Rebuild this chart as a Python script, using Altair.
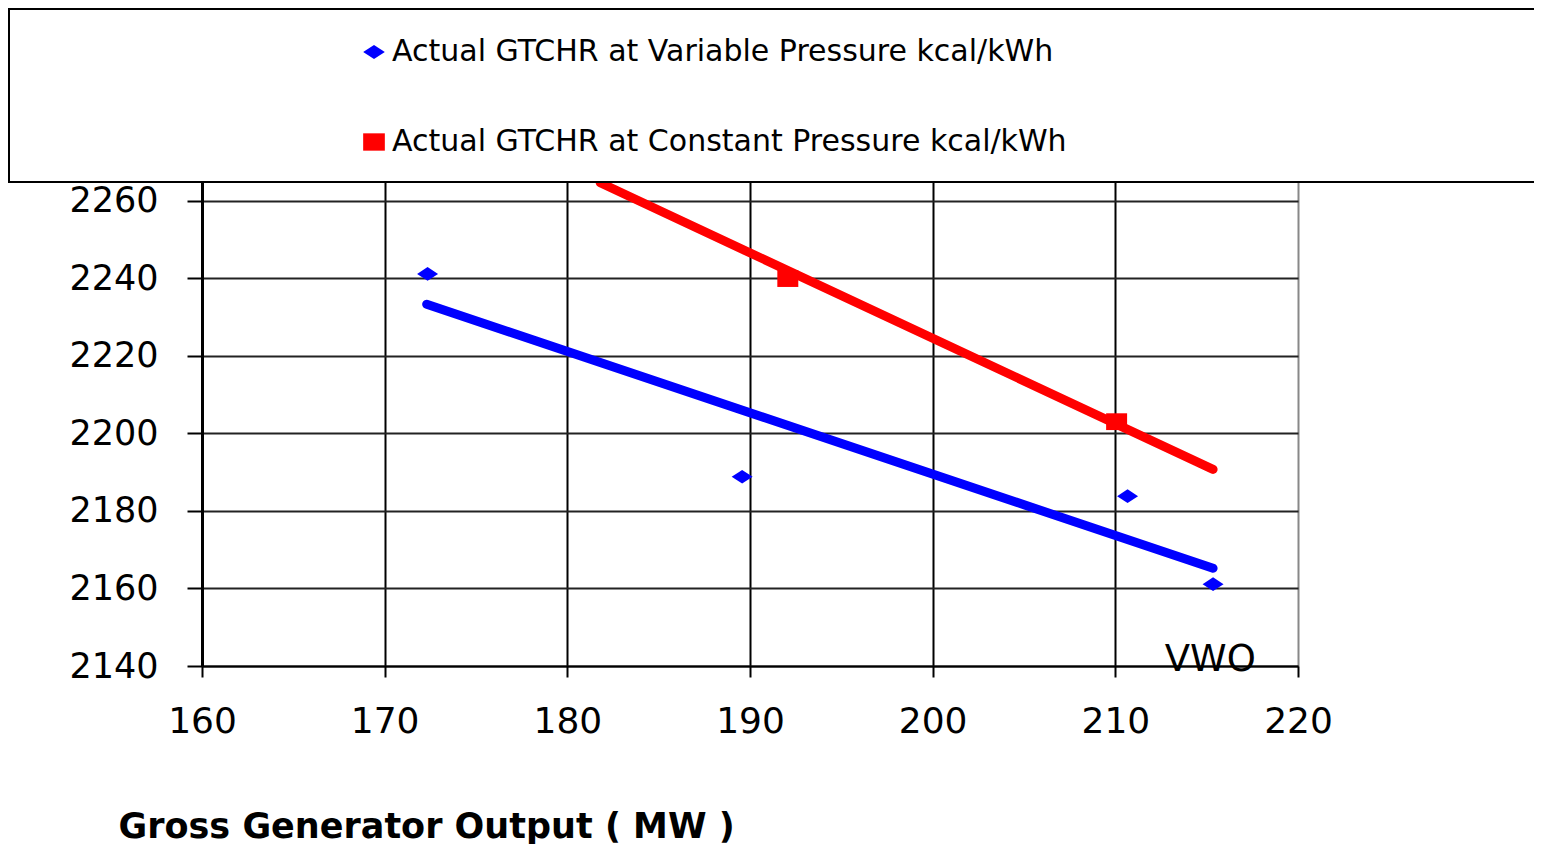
import altair as alt
import pandas as pd

# ---- data ----
var_label = "Actual GTCHR  at Variable Pressure  kcal/kWh"
con_label = "Actual GTCHR  at Constant Pressure  kcal/kWh"

var_x = [172.35, 189.57, 210.67, 215.35]
var_y = [2241.1, 2188.8, 2183.8, 2161.1]
con_x = [192.07, 210.07]
con_y = [2239.9, 2203.0]

var_trend_x = [172.3, 215.35]
var_trend_y = [2233.3, 2165.2]
con_trend_x = [181.8, 215.35]
con_trend_y = [2264.6, 2190.7]

x_ticks = [160, 170, 180, 190, 200, 210, 220]
y_ticks = [2140, 2160, 2180, 2200, 2220, 2240, 2260]
x_title = "Gross Generator Output ( MW )"
note_text = ["VWO"]
note_x = [215.2]
note_y = [2138.7]

# ---- tables ----
points = pd.DataFrame({
    "mw": var_x + con_x,
    "hr": var_y + con_y,
    "series": [var_label] * len(var_x) + [con_label] * len(con_x),
})
var_trend = pd.DataFrame({"mw": var_trend_x, "hr": var_trend_y})
con_trend = pd.DataFrame({"mw": con_trend_x, "hr": con_trend_y})
note = pd.DataFrame({"mw": note_x, "hr": note_y, "t": note_text})

FONT = "DejaVu Sans"
DIAMOND = "M-1,0L0,-0.65L1,0L0,0.65Z"
SQUARE = "M-1,-0.8L1,-0.8L1,0.8L-1,0.8Z"

xs = alt.Scale(domain=[160, 220], nice=False, zero=False)
ys = alt.Scale(domain=[2140, 2264.8], nice=False, zero=False)

x_axis = alt.Axis(
    values=x_ticks, grid=True, format="d", labelFlush=False,
    gridColor={"condition": {"test": "datum.value === 220", "value": "#888888"}, "value": "black"},
    gridWidth=2, domainColor="black", domainWidth=2,
    tickColor="black", tickWidth=2, tickSize=11,
    labelFont=FONT, labelFontSize=36, labelColor="black", labelPadding=27,
    title=x_title, titleFont=FONT, titleFontSize=35, titleFontWeight="bold",
    titleColor="black", titleAlign="left", titleAnchor="start",
    titleX=-84, titleY=171, titleBaseline="alphabetic",
)
y_axis = alt.Axis(
    values=y_ticks, grid=True, format="d", labelFlush=False,
    gridColor="#222222", gridWidth=2,
    domainColor="black", domainWidth=3,
    tickColor="black", tickWidth=2, tickSize=15,
    labelFont=FONT, labelFontSize=35, labelColor="black", labelPadding=29,
    title=None,
)

leg = alt.Legend(title=None, orient="none", legendX=157, legendY=-145)

pts = alt.Chart(points).mark_point(filled=True, size=440, opacity=1).encode(
    x=alt.X("mw:Q", scale=xs, axis=x_axis),
    y=alt.Y("hr:Q", scale=ys, axis=y_axis),
    color=alt.Color("series:N", scale=alt.Scale(domain=[var_label, con_label], range=["#0000ff", "#ff0000"]),
                    legend=leg),
    shape=alt.Shape("series:N", scale=alt.Scale(domain=[var_label, con_label], range=[DIAMOND, SQUARE]),
                    legend=leg),
)

line_var = alt.Chart(var_trend).mark_line(color="#0000ff", strokeWidth=9, strokeCap="round").encode(
    x=alt.X("mw:Q", scale=xs), y=alt.Y("hr:Q", scale=ys))
line_con = alt.Chart(con_trend).mark_line(color="#ff0000", strokeWidth=9, strokeCap="round").encode(
    x=alt.X("mw:Q", scale=xs), y=alt.Y("hr:Q", scale=ys))

txt = alt.Chart(note).mark_text(font=FONT, fontSize=37, color="black", align="center",
                                baseline="alphabetic").encode(
    x=alt.X("mw:Q", scale=xs), y=alt.Y("hr:Q", scale=ys), text="t:N")

box = alt.Chart(pd.DataFrame({"k": [0]})).mark_rect(fill="white", stroke="black", strokeWidth=2).encode(
    x=alt.value(-193), x2=alt.value(1340), y=alt.value(-173), y2=alt.value(0))

chart = alt.layer(line_var, line_con, pts, txt, box).properties(
    width=1096, height=484,
    autosize=alt.AutoSizeParams(type="none"),
    padding={"left": 194, "top": 174, "right": 236, "bottom": 178},
    background="white",
).configure_view(stroke=None).configure_legend(
    labelFont=FONT, labelFontSize=30, labelColor="black", labelLimit=0,
    rowPadding=60, labelOffset=3, symbolSize=470, symbolStrokeWidth=0,
)

chart.save("out.html", embed_options={"renderer": "svg", "actions": False})
